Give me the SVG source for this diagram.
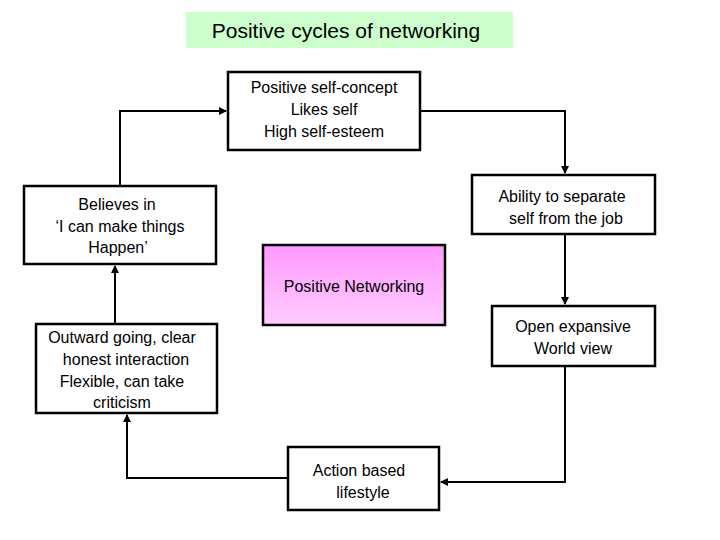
<svg xmlns="http://www.w3.org/2000/svg" width="720" height="540" viewBox="0 0 720 540">
<style>
.b{fill:#fff;stroke:#000;stroke-width:2.5}
text{font-family:"Liberation Sans",Arial,sans-serif;font-size:16px;text-anchor:middle;fill:#000}
.c path{fill:none;stroke:#000;stroke-width:2}
</style>
<defs>
<marker id="a" markerWidth="8" markerHeight="8" refX="7" refY="4" orient="auto" markerUnits="userSpaceOnUse"><path d="M0,0 L8,4 L0,8 Z" fill="#000"/></marker>
<linearGradient id="g" x1="0" y1="0" x2="0" y2="1"><stop offset="0" stop-color="#ff99ff"/><stop offset="1" stop-color="#ffccff"/></linearGradient>
</defs>
<rect width="720" height="540" fill="#fff"/>
<g id="title"><rect x="186" y="12" width="327" height="36" fill="#ccffcc"/><text x="346" y="38" style="font-size:21px">Positive cycles of networking</text></g>
<g class="c">
<path d="M120,186 V111 H226" marker-end="url(#a)"/>
<path d="M420,111 H565 V173" marker-end="url(#a)"/>
<path d="M565,234 V304" marker-end="url(#a)"/>
<path d="M565,366 V482 H441" marker-end="url(#a)"/>
<path d="M288,478 H127 V415" marker-end="url(#a)"/>
<path d="M115,324 V266" marker-end="url(#a)"/>
</g>
<g id="center"><rect x="263" y="245" width="182" height="80" fill="url(#g)" stroke="#000" stroke-width="2.5"/><text x="354" y="292">Positive Networking</text></g>
<g id="top"><rect class="b" x="228" y="72" width="192" height="78"/><text x="324" y="93">Positive self-concept</text><text x="324" y="115">Likes self</text><text x="324" y="137">High self-esteem</text></g>
<g id="r1"><rect class="b" x="472" y="175" width="183" height="59"/><text x="562" y="202">Ability to separate</text><text x="566" y="224">self from the job</text></g>
<g id="l1"><rect class="b" x="24" y="186" width="192" height="78"/><text x="117" y="210">Believes in</text><text x="120" y="232">‘I can make things</text><text x="118" y="253">Happen’</text></g>
<g id="r2"><rect class="b" x="492" y="306" width="163" height="60"/><text x="573" y="332">Open expansive</text><text x="573" y="354">World view</text></g>
<g id="l2"><rect class="b" x="36" y="324" width="181" height="89"/><text x="122" y="343">Outward going, clear</text><text x="126" y="365">honest interaction</text><text x="122" y="387">Flexible, can take</text><text x="122" y="408">criticism</text></g>
<g id="bottom"><rect class="b" x="288" y="447" width="151" height="63"/><text x="359" y="476">Action based</text><text x="363" y="498">lifestyle</text></g>
</svg>
